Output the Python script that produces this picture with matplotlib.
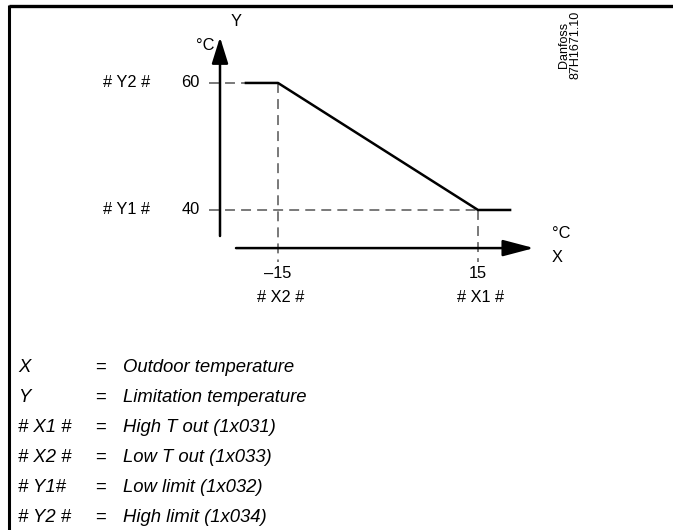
import matplotlib
matplotlib.use("Agg")
import matplotlib.pyplot as plt
from matplotlib.lines import Line2D

# Limitation curve: outdoor temperature (X) vs. limitation temperature (Y)
x_points = [-20, -15, 15, 20]
y_points = [60, 60, 40, 40]

x_ticks = [-15, 15]
x_tick_labels = ["\u201315", "15"]
x_param_labels = ["# X2 #", "# X1 #"]
y_ticks = [60, 40]
y_tick_labels = ["60", "40"]
y_param_labels = ["# Y2 #", "# Y1 #"]

legend_keys = ["X", "Y", "# X1 #", "# X2 #", "# Y1#", "# Y2 #"]
legend_texts = ["Outdoor temperature", "Limitation temperature",
                "High T out (1x031)", "Low T out (1x033)",
                "Low limit (1x032)", "High limit (1x034)"]

W, H = 673, 530
fig = plt.figure(figsize=(W / 100, H / 100), dpi=100)


def fx(p):
    return p / W


def fy(p):
    return 1 - p / H


# frame (top and left edges)
fig.add_artist(Line2D([fx(9), fx(W)], [fy(6), fy(6)], color="black", lw=2.4,
                      solid_capstyle="butt"))
fig.add_artist(Line2D([fx(9), fx(9)], [fy(5), fy(H)], color="black", lw=2.2,
                      solid_capstyle="butt"))

# chart axes
ax_l, ax_r, ax_t, ax_b = 190, 580, 15, 290
ax = fig.add_axes([fx(ax_l), fy(ax_b), (ax_r - ax_l) / W, (ax_b - ax_t) / H])
ax.set_xlim(-28.2, 30.3)
ax.set_ylim(27.4, 70.7)
ax.axis("off")

yaxis_x = -23.7
xaxis_y = 34.0
dash_bottom = 31.8
dash_left = -25.35

dash_kw = dict(color="#555555", lw=1.1, dashes=(6.5, 4))
for xt, yv in zip(x_ticks, [60, 40]):
    ax.plot([xt, xt], [yv, dash_bottom], **dash_kw)
for yt, xv in zip(y_ticks, [-15, 15]):
    ax.plot([dash_left, xv], [yt, yt], **dash_kw)

# axes with arrowheads
ax.annotate("", xy=(yaxis_x, 67.2), xytext=(yaxis_x, 35.9),
            arrowprops=dict(arrowstyle="-|>,head_length=1.6,head_width=0.5",
                            lw=1.8, color="black", shrinkA=0, shrinkB=0,
                            mutation_scale=10))
ax.annotate("", xy=(23.4, xaxis_y), xytext=(-21.3, xaxis_y),
            arrowprops=dict(arrowstyle="-|>,head_length=1.9,head_width=0.5",
                            lw=1.8, color="black", shrinkA=0, shrinkB=0,
                            mutation_scale=10))

# curve
ax.plot(x_points, y_points, color="black", lw=1.8, solid_capstyle="butt")

font = "Liberation Sans"
fs = 11.8
for yt, lab, par in zip(y_ticks, y_tick_labels, y_param_labels):
    ax.annotate(lab, xy=(yaxis_x, yt), xytext=(-20, 0), textcoords="offset pixels",
                ha="right", va="center", fontsize=fs, family=font)
    ax.annotate(par, xy=(yaxis_x, yt), xytext=(-70, 0), textcoords="offset pixels",
                ha="right", va="center", fontsize=fs, family=font)
for xt, lab, par in zip(x_ticks, x_tick_labels, x_param_labels):
    ax.annotate(lab, xy=(xt, xaxis_y), xytext=(0, -25), textcoords="offset pixels",
                ha="center", va="center", fontsize=fs, family=font)
    ax.annotate(par, xy=(xt, xaxis_y), xytext=(3, -49), textcoords="offset pixels",
                ha="center", va="center", fontsize=fs, family=font)

fig.text(fx(205), fy(46), "\u00b0C", ha="center", va="center", fontsize=fs, family=font)
fig.text(fx(236), fy(22), "Y", ha="center", va="center", fontsize=fs, family=font)
fig.text(fx(561), fy(234), "\u00b0C", ha="center", va="center", fontsize=fs, family=font)
fig.text(fx(557), fy(258), "X", ha="center", va="center", fontsize=fs, family=font)

fig.text(fx(570), fy(45), "Danfoss\n87H1671.10", rotation=90, ha="center", va="center",
         fontsize=9, family=font, linespacing=0.9)

# legend rows
leg_fs = 13.3
row_y = [367, 397, 427, 457, 487, 517]
for ry, key, txt in zip(row_y, legend_keys, legend_texts):
    fig.text(fx(18), fy(ry), key, ha="left", va="center", fontsize=leg_fs,
             style="italic", family=font)
    fig.text(fx(100), fy(ry), "=", ha="center", va="center", fontsize=leg_fs,
             family=font)
    fig.text(fx(123), fy(ry), txt, ha="left", va="center", fontsize=leg_fs,
             style="italic", family=font)

fig.savefig("out.png", dpi=100)
